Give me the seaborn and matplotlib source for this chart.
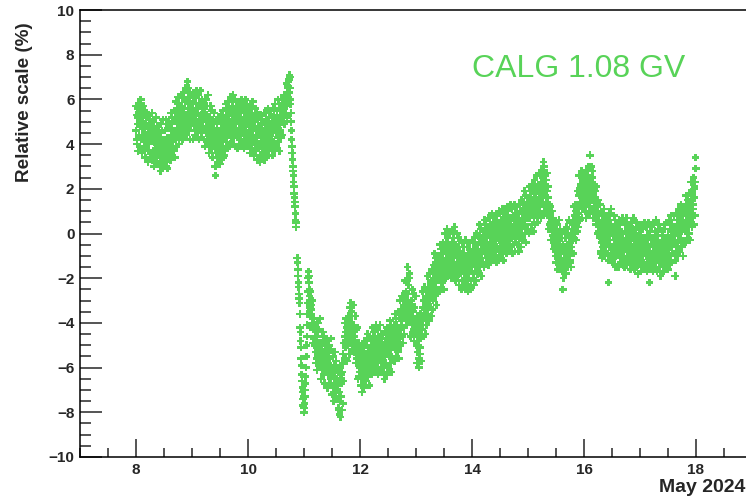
import numpy as np
import pandas as pd
import matplotlib
matplotlib.use("Agg")
import matplotlib.pyplot as plt
from matplotlib.ticker import MultipleLocator
import seaborn as sns

# Relative rigidity-scale deviation (%) of the CALG 1.08 GV channel, May 2024.
# Per day: readings on the 0.01-day grid, then readings half a step later.
scale_may08 = [
    4.6, 5.3, 4.2, 4.9, 5.6, 4.4, 5.0, 3.9, 4.8, 5.2,
    4.3, 5.0, 4.7, 3.8, 5.4, 4.5, 4.1, 4.9, 5.2, 4.4,
    4.0, 4.8, 3.7, 4.5, 5.1, 4.2, 4.6, 3.6, 4.9, 4.3,
    3.6, 4.4, 4.1, 3.4, 4.7, 3.8, 4.2, 3.2, 4.0, 4.5,
    3.5, 4.3, 3.9, 3.1, 4.5, 3.7, 4.1, 3.3, 4.0, 3.8,
    4.2, 3.4, 4.6, 3.8, 3.0, 4.3, 4.0, 3.6, 4.8, 3.9,
    4.1, 4.7, 3.7, 4.4, 5.0, 4.2, 3.9, 4.6, 4.3, 5.1,
    4.6, 5.2, 4.4, 5.5, 4.9, 5.8, 4.7, 5.1, 4.3, 5.4,
    5.0, 5.7, 4.8, 5.4, 6.1, 5.2, 5.6, 4.7, 5.9, 5.3,
    5.2, 6.0, 6.8, 5.4, 5.8, 4.9, 5.6, 6.2, 5.1, 5.5,
]
scale_may08_mid = [
    5.7, 4.0, 5.2, 3.7, 5.8, 4.3, 5.5, 3.9, 6.0, 4.2,
    3.6, 5.2, 4.2, 5.7, 3.8, 5.5, 3.4, 4.9, 4.0, 5.4,
    4.8, 3.2, 5.3, 4.0, 5.1, 3.4, 4.5, 3.6, 5.4, 3.3,
    3.3, 5.0, 3.0, 4.6, 3.8, 5.2, 3.1, 4.8, 3.5, 4.4,
    4.8, 3.1, 4.3, 2.8, 4.9, 3.4, 4.6, 3.0, 5.1, 3.3,
    3.0, 4.6, 3.6, 5.1, 3.2, 4.9, 2.9, 4.3, 3.4, 4.8,
    4.9, 3.3, 5.4, 4.1, 5.2, 3.5, 4.6, 3.7, 5.5, 3.4,
    4.2, 5.9, 3.9, 5.5, 4.7, 6.1, 4.0, 5.7, 4.4, 5.3,
    6.2, 4.5, 5.7, 4.2, 6.3, 4.8, 6.0, 4.4, 6.5, 4.7,
    4.4, 6.0, 5.0, 6.5, 4.6, 6.3, 4.2, 5.7, 4.8, 6.2,
]
scale_may09 = [
    5.6, 5.0, 5.9, 5.3, 4.8, 5.5, 6.1, 5.1, 5.4, 4.9,
    5.4, 4.9, 5.7, 5.1, 5.8, 4.7, 5.3, 5.0, 5.6, 5.2,
    4.8, 5.4, 4.6, 5.1, 5.7, 4.5, 5.0, 5.3, 4.7, 5.2,
    4.9, 4.3, 5.2, 4.5, 4.0, 4.8, 4.4, 5.0, 3.9, 4.6,
    4.4, 3.8, 2.6, 4.2, 3.6, 4.7, 3.9, 3.4, 4.5, 4.0,
    4.1, 4.6, 3.7, 4.4, 5.0, 3.9, 4.3, 4.8, 3.5, 4.5,
    4.7, 5.3, 4.5, 5.0, 5.6, 4.4, 5.1, 4.8, 5.4, 4.6,
    5.4, 4.8, 5.7, 5.0, 6.0, 4.6, 5.2, 5.5, 4.9, 5.3,
    4.6, 5.2, 4.4, 5.6, 4.9, 4.2, 5.0, 5.4, 4.7, 5.1,
    5.1, 4.5, 5.5, 4.8, 4.1, 5.0, 4.6, 5.8, 4.4, 4.9,
]
scale_may09_mid = [
    5.8, 4.2, 6.3, 5.0, 6.1, 4.4, 5.5, 4.6, 6.4, 4.3,
    4.5, 6.2, 4.2, 5.8, 5.0, 6.4, 4.3, 6.0, 4.7, 5.6,
    5.9, 4.2, 5.4, 3.9, 6.0, 4.5, 5.7, 4.1, 6.2, 4.4,
    3.6, 5.2, 4.2, 5.7, 3.8, 5.5, 3.4, 4.9, 4.0, 5.4,
    4.6, 3.0, 5.1, 3.8, 4.9, 3.2, 4.3, 3.4, 5.2, 3.1,
    3.6, 5.3, 3.3, 4.9, 4.1, 5.5, 3.4, 5.1, 3.8, 4.7,
    5.8, 4.1, 5.3, 3.8, 5.9, 4.4, 5.6, 4.0, 6.1, 4.3,
    4.1, 5.7, 4.7, 6.2, 4.3, 6.0, 3.9, 5.4, 4.5, 5.9,
    5.4, 3.8, 5.9, 4.6, 5.7, 4.0, 5.1, 4.2, 6.0, 3.9,
    4.1, 5.8, 3.8, 5.4, 4.6, 6.0, 3.9, 5.6, 4.3, 5.2,
]
scale_may10 = [
    4.5, 5.1, 4.2, 4.8, 5.4, 4.0, 4.9, 4.6, 5.2, 4.4,
    4.8, 4.2, 5.0, 3.8, 4.6, 4.3, 5.3, 4.0, 4.7, 4.4,
    4.0, 4.6, 3.5, 4.4, 4.9, 4.1, 3.8, 4.5, 4.2, 5.0,
    4.7, 4.1, 4.5, 3.9, 5.0, 4.3, 4.6, 3.7, 4.8, 4.2,
    4.4, 4.9, 4.2, 4.7, 5.2, 4.5, 4.0, 4.8, 4.6, 5.1,
    5.0, 4.5, 5.3, 4.7, 4.3, 5.1, 4.9, 5.5, 4.6, 5.2,
    5.2, 5.8, 5.0, 5.5, 6.1, 5.4, 5.9, 5.3, 6.2, 5.7,
    6.2, 6.6, 6.0, 6.9, 7.1, 6.5, 5.8, 5.0, 4.2, 3.6,
    3.0, 2.6, 2.1, 1.6, 1.2, 0.6, 0.3, np.nan, -1.1, -1.6,
    -2.2, -2.7, -3.1, -4.2, -4.8, -5.6, -6.3, -6.9, -7.4, -7.0,
]
scale_may10_mid = [
    5.6, 3.9, 5.1, 3.6, 5.7, 4.2, 5.4, 3.8, 5.9, 4.1,
    3.5, 5.1, 4.1, 5.6, 3.7, 5.4, 3.3, 4.8, 3.9, 5.3,
    4.8, 3.2, 5.3, 4.0, 5.1, 3.4, 4.5, 3.6, 5.4, 3.3,
    3.7, 5.4, 3.4, 5.0, 4.2, 5.6, 3.5, 5.2, 3.9, 4.8,
    5.5, 3.8, 5.0, 3.5, 5.6, 4.1, 5.3, 3.7, 5.8, 4.0,
    3.9, 5.5, 4.5, 6.0, 4.1, 5.8, 3.7, 5.2, 4.3, 5.7,
    5.6, 4.4, 6.0, 5.0, 6.2, 4.9, 5.9, 5.3, 6.7, 5.2,
    6.5, 6.1, 6.8, 6.3, 7.0, 6.0, 5.4, 4.6, 3.9, 3.3,
    2.8, 2.3, 1.8, 1.4, 0.9, 0.5, np.nan, np.nan, -1.3, -1.9,
    -2.4, -2.9, -3.6, -4.4, -5.1, -5.9, -6.6, -7.1, -7.7, -7.3,
]
scale_may11 = [
    -8.0, -7.6, -7.0, -6.4, -5.5, -4.6, -3.6, -2.6, -1.7, -2.2,
    -2.8, -3.2, -3.6, -3.4, -4.0, -3.8, -4.3, -4.7, -4.2, -5.0,
    -4.6, -5.3, -4.8, -5.6, -4.4, -5.1, -5.7, -4.9, -5.4, -5.0,
    -5.2, -5.8, -5.0, -6.1, -5.4, -5.7, -4.9, -5.5, -6.2, -5.3,
    -5.4, -6.0, -5.1, -5.8, -6.3, -5.5, -6.1, -5.2, -5.9, -6.4,
    -6.2, -6.8, -6.0, -7.1, -6.4, -6.9, -5.9, -7.3, -6.6, -7.0,
    -7.4, -6.8, -7.9, -7.1, -6.5, -8.2, -7.3, -6.7, -6.2, -5.8,
    -5.4, -4.9, -5.6, -4.6, -5.1, -4.4, -4.8, -4.2, -4.6, -4.0,
    -4.5, -3.9, -4.7, -3.1, -4.2, -4.8, -3.7, -4.4, -4.9, -4.1,
    -4.6, -5.1, -4.3, -5.4, -4.9, -5.6, -5.2, -5.8, -5.5, -6.0,
]
scale_may11_mid = [
    -7.8, -7.3, -6.7, -6.0, -5.0, -4.1, -3.1, -2.0, -1.9, -2.5,
    -3.3, -2.6, -4.2, -3.2, -4.0, -3.0, -4.9, -3.8, -4.9, -4.2,
    -4.1, -5.8, -4.6, -6.1, -4.0, -5.5, -4.3, -5.9, -3.8, -5.6,
    -6.5, -4.9, -5.9, -4.4, -6.3, -4.6, -6.7, -5.2, -6.1, -4.7,
    -5.3, -6.9, -4.8, -6.1, -5.0, -6.7, -5.6, -6.5, -4.7, -6.8,
    -7.2, -5.5, -7.5, -5.9, -6.7, -5.3, -7.4, -5.7, -7.0, -6.1,
    -6.1, -7.8, -6.6, -8.1, -6.0, -7.5, -6.3, -7.9, -5.8, -7.6,
    -6.6, -4.9, -5.7, -4.0, -5.6, -3.8, -5.7, -4.3, -4.9, -3.7,
    -3.8, -5.4, -3.3, -4.6, -3.5, -5.2, -4.1, -5.0, -3.2, -5.3,
    -5.3, -3.7, -5.8, -4.3, -5.4, -4.2, -6.5, -4.9, -6.4, -5.4,
]
scale_may12 = [
    -6.2, -5.7, -6.5, -5.9, -6.8, -6.1, -5.6, -6.3, -5.8, -6.0,
    -5.9, -5.4, -6.2, -5.6, -5.1, -5.8, -5.3, -6.0, -5.5, -5.2,
    -5.0, -5.6, -4.8, -5.3, -5.9, -5.1, -4.6, -5.4, -5.7, -4.9,
    -5.6, -5.0, -5.8, -5.2, -4.7, -5.5, -6.1, -5.3, -4.9, -5.7,
    -5.1, -5.7, -5.3, -6.0, -5.5, -4.9, -5.8, -5.2, -6.3, -5.4,
    -5.3, -4.7, -5.5, -5.0, -4.5, -5.2, -4.8, -5.6, -4.6, -5.1,
    -4.8, -4.3, -5.0, -4.5, -4.9, -4.1, -4.7, -4.4, -5.2, -4.2,
    -4.3, -3.8, -4.5, -3.6, -4.1, -3.9, -4.6, -3.5, -4.2, -3.7,
    -3.4, -2.9, -3.6, -2.2, -3.1, -1.5, -2.7, -3.3, -2.0, -3.5,
    -3.2, -3.9, -3.4, -3.7, -4.1, -3.5, -4.3, -3.8, -4.5, -4.0,
]
scale_may12_mid = [
    -5.1, -6.8, -5.6, -7.1, -5.0, -6.5, -5.3, -6.9, -4.8, -6.6,
    -6.6, -5.0, -6.0, -4.5, -6.4, -4.7, -6.8, -5.3, -6.2, -4.8,
    -4.7, -6.3, -4.2, -5.5, -4.4, -6.1, -5.0, -5.9, -4.1, -6.2,
    -6.0, -4.3, -6.3, -4.7, -5.5, -4.1, -6.2, -4.5, -5.8, -4.9,
    -4.5, -6.2, -5.0, -6.5, -4.4, -5.9, -4.7, -6.3, -4.2, -6.0,
    -6.0, -4.4, -5.4, -3.9, -5.8, -4.1, -6.2, -4.7, -5.6, -4.2,
    -4.1, -5.7, -3.6, -4.9, -3.8, -5.5, -4.4, -5.3, -3.5, -5.6,
    -4.7, -3.0, -5.0, -3.4, -4.2, -2.8, -4.9, -3.2, -4.5, -3.6,
    -2.1, -3.8, -2.6, -4.1, -2.0, -3.5, -2.3, -3.9, -1.8, -3.6,
    -4.6, -3.0, -4.0, -2.5, -4.4, -2.7, -4.8, -3.3, -4.2, -2.8,
]
scale_may13 = [
    -4.4, -5.0, -4.6, -5.3, -4.8, -6.0, -4.5, -5.1, -4.2, -4.7,
    -4.1, -3.7, -3.9, -3.3, -3.8, -3.4, -3.0, -3.6, -2.9, -3.2,
    -3.1, -2.6, -3.3, -2.8, -2.4, -3.0, -2.7, -2.2, -2.9, -2.5,
    -2.3, -1.8, -2.5, -2.0, -1.6, -2.2, -1.9, -1.4, -2.1, -1.7,
    -1.8, -1.3, -1.6, -1.0, -1.9, -1.4, -1.2, -1.7, -0.9, -1.5,
    -1.3, -0.8, -1.5, -0.6, -1.1, 0.0, -1.4, -0.9, -1.6, -0.7,
    -0.6, -1.2, -0.8, -1.5, -0.4, -1.0, -1.7, -0.7, -1.1, -0.5,
    -1.4, -0.9, -1.6, -1.0, -0.6, -1.3, -1.8, -0.8, -1.2, -1.5,
    -1.1, -1.7, -1.3, -2.1, -1.5, -0.9, -1.6, -2.2, -1.2, -1.8,
    -1.9, -1.4, -2.3, -1.6, -1.2, -2.0, -1.5, -2.4, -1.7, -1.1,
]
scale_may13_mid = [
    -4.2, -5.8, -3.7, -5.0, -3.9, -5.6, -4.5, -5.4, -3.6, -5.7,
    -4.3, -2.6, -4.6, -3.0, -3.8, -2.4, -4.5, -2.8, -4.1, -3.2,
    -1.9, -3.6, -2.4, -3.9, -1.8, -3.3, -2.1, -3.7, -1.6, -3.4,
    -3.0, -1.4, -2.4, -0.9, -2.8, -1.1, -3.2, -1.7, -2.6, -1.2,
    -1.0, -2.6, -0.5, -1.8, -0.7, -2.4, -1.3, -2.2, -0.4, -2.5,
    -1.7, 0.0, -2.0, -0.4, -1.2, 0.2, -1.9, -0.2, -1.5, -0.6,
    0.0, -1.7, -0.5, -2.0, 0.1, -1.4, -0.2, -1.8, 0.3, -1.5,
    -2.1, -0.5, -1.5, 0.0, -1.9, -0.2, -2.3, -0.8, -1.7, -0.3,
    -0.9, -2.5, -0.4, -1.7, -0.6, -2.3, -1.2, -2.1, -0.3, -2.4,
    -2.3, -0.6, -2.6, -1.0, -1.8, -0.4, -2.5, -0.8, -2.1, -1.2,
]
scale_may14 = [
    -1.5, -0.9, -1.3, -1.8, -1.0, -1.4, -0.6, -1.2, -1.7, -0.8,
    -1.0, -0.5, -0.9, -0.2, -0.8, -1.3, -0.4, -0.7, -1.1, -0.3,
    -0.7, -0.2, -0.6, 0.1, -0.5, -0.9, -0.1, -0.4, -1.0, 0.2,
    0.0, -0.6, -0.2, -0.8, 0.3, -0.4, -0.1, -0.7, 0.4, -0.3,
    -0.5, 0.1, -0.3, 0.5, -0.1, -0.6, 0.2, -0.2, -0.8, 0.0,
    0.3, -0.3, 0.6, -0.1, 0.2, -0.5, 0.4, 0.0, -0.4, 0.7,
    0.0, 0.5, -0.2, 0.3, 0.8, 0.1, -0.3, 0.4, 0.6, -0.1,
    0.4, -0.2, 0.2, -0.5, 0.0, 0.6, -0.1, 0.3, -0.4, 0.1,
    0.1, 0.6, -0.1, 0.4, 0.9, 0.2, -0.2, 0.5, 0.0, 0.7,
    0.5, 1.1, 0.6, 1.3, 0.8, 0.3, 1.0, 0.7, 1.4, 0.9,
]
scale_may14_mid = [
    -0.3, -2.0, -0.8, -2.3, -0.2, -1.7, -0.5, -2.1, 0.0, -1.8,
    -1.7, -0.1, -1.1, 0.4, -1.5, 0.2, -1.9, -0.4, -1.3, 0.1,
    0.1, -1.5, 0.6, -0.7, 0.4, -1.3, -0.2, -1.1, 0.7, -1.4,
    -1.0, 0.7, -1.3, 0.3, -0.5, 0.9, -1.2, 0.5, -0.8, 0.1,
    0.7, -1.0, 0.2, -1.3, 0.8, -0.7, 0.5, -1.1, 1.0, -0.8,
    -1.0, 0.6, -0.4, 1.1, -0.8, 0.9, -1.2, 0.3, -0.6, 0.8,
    0.7, -0.9, 1.2, -0.1, 1.0, -0.7, 0.4, -0.5, 1.3, -0.8,
    -0.6, 1.1, -0.9, 0.7, -0.1, 1.3, -0.8, 0.9, -0.4, 0.5,
    1.2, -0.5, 0.7, -0.8, 1.3, -0.2, 1.0, -0.6, 1.5, -0.3,
    -0.2, 1.4, 0.4, 1.9, 0.0, 1.7, -0.4, 1.1, 0.2, 1.6,
]
scale_may15 = [
    1.4, 0.9, 1.2, 0.7, 1.6, 1.0, 1.3, 0.8, 1.5, 1.1,
    1.0, 1.6, 1.2, 1.8, 1.4, 0.9, 1.5, 1.1, 1.9, 1.3,
    1.5, 2.0, 1.3, 2.3, 1.8, 2.6, 1.6, 2.1, 3.2, 1.9,
    2.2, 1.7, 2.4, 1.4, 1.9, 1.2, 1.6, 1.0, 1.3, 0.9,
    0.8, 0.5, 0.2, 0.6, -0.1, 0.3, -0.3, 0.1, -0.5, -0.2,
    -0.4, -0.8, -0.3, -1.0, -0.6, -0.2, -0.9, -0.5, -1.2, -0.7,
    -0.6, -1.2, -2.5, -0.8, -1.4, -0.7, -1.1, -1.6, -0.9, -1.3,
    -1.0, -0.5, -0.9, -0.2, -0.7, -1.3, -0.4, 0.0, -0.6, 0.2,
    0.0, 0.5, -0.2, 0.8, 0.3, 1.0, 0.4, 1.2, 0.6, 0.9,
    1.1, 1.7, 1.3, 1.9, 1.4, 2.1, 1.6, 1.2, 1.8, 2.2,
]
scale_may15_mid = [
    1.6, 0.0, 2.1, 0.8, 1.9, 0.2, 1.3, 0.4, 2.2, 0.1,
    0.7, 2.4, 0.4, 2.0, 1.2, 2.6, 0.5, 2.2, 0.9, 1.8,
    2.7, 1.0, 2.2, 0.7, 2.8, 1.3, 2.5, 0.9, 3.0, 1.2,
    1.0, 2.6, 1.4, 2.7, 0.8, 2.1, 0.2, 1.3, 0.4, 1.2,
    1.2, -0.3, 1.0, -0.1, 0.7, -0.7, 0.2, -0.6, 0.5, -1.0,
    -1.3, 0.4, -1.6, 0.0, -0.8, 0.6, -1.5, 0.2, -1.1, -0.2,
    0.0, -1.7, -0.5, -2.0, 0.1, -1.4, -0.2, -1.8, 0.3, -1.5,
    -1.5, 0.0, -1.0, 0.6, -1.2, 0.5, -1.5, -0.1, -0.9, 0.5,
    0.6, -0.9, 1.2, 0.0, 1.3, -0.3, 0.9, 0.1, 1.9, 0.3,
    0.9, 2.6, 0.6, 2.2, 1.4, 2.8, 0.7, 2.4, 1.1, 2.0,
]
scale_may16 = [
    1.5, 2.1, 1.7, 2.4, 1.9, 1.4, 2.0, 2.6, 1.6, 2.2,
    2.3, 3.5, 1.8, 2.1, 1.5, 2.5, 1.7, 2.0, 1.4, 2.2,
    1.6, 1.2, 1.4, 0.8, 1.0, 0.4, 0.6, 0.1, 0.3, -0.2,
    0.2, -0.4, 0.1, -0.6, -0.1, 0.4, -0.3, -0.8, 0.0, -0.5,
    -0.4, 0.2, -0.2, 0.5, -2.2, 0.0, -0.3, 0.3, -0.9, 0.1,
    0.0, -0.6, -0.1, -0.9, -0.3, 0.3, -0.5, -1.0, -0.2, 0.2,
    -0.7, -0.1, -0.5, 0.2, -0.9, -0.3, -1.1, -0.4, 0.0, -0.6,
    -0.2, -0.8, -0.4, -1.2, -0.5, 0.1, -0.7, -1.0, -0.3, -0.6,
    -0.8, -0.3, -1.0, -0.5, 0.0, -0.7, -1.3, -0.2, -0.6, -0.9,
    -0.3, -0.9, -0.5, -1.1, -0.2, -0.7, -1.4, -0.6, -0.1, -0.8,
]
scale_may16_mid = [
    2.7, 1.0, 2.2, 0.7, 2.8, 1.3, 2.5, 0.9, 3.0, 1.2,
    0.9, 2.5, 1.5, 3.0, 1.1, 2.8, 0.7, 2.2, 1.0, 2.1,
    1.9, 0.4, 2.1, 0.9, 1.5, 0.0, 0.9, -0.1, 1.3, -0.9,
    -0.8, 0.9, -1.1, 0.5, -0.3, 1.1, -1.0, 0.7, -0.6, 0.3,
    0.8, -0.9, 0.3, -1.2, 0.9, -0.6, 0.6, -1.0, 1.1, -0.7,
    -1.3, 0.3, -0.7, 0.8, -1.1, 0.6, -1.5, 0.0, -0.9, 0.5,
    0.1, -1.5, 0.6, -0.7, 0.4, -1.3, -0.2, -1.1, 0.7, -1.4,
    -1.2, 0.5, -1.5, 0.1, -0.7, 0.7, -1.4, 0.3, -1.0, -0.1,
    0.4, -1.3, -0.1, -1.6, 0.5, -1.0, 0.2, -1.4, 0.7, -1.1,
    -1.6, 0.0, -1.0, 0.5, -1.4, 0.3, -1.8, -0.3, -1.2, 0.2,
]
scale_may17 = [
    -0.9, -0.4, -1.2, -0.6, -0.2, -1.0, -0.5, -1.5, -0.7, -0.3,
    -0.4, -1.0, -0.7, -1.3, -0.5, -0.1, -0.9, -2.2, -0.6, -1.1,
    -0.9, -0.3, -1.1, -0.6, -1.4, -0.2, -0.8, -0.5, -1.2, -0.4,
    -0.5, -1.0, -0.3, -1.2, -0.7, -1.5, -0.4, -0.9, -1.1, -0.6,
    -0.8, -0.4, -1.3, -0.6, -0.2, -1.0, -0.5, -1.6, -0.7, -0.3,
    -0.1, -0.7, -0.3, -1.0, -0.4, 0.1, -0.6, -0.2, -0.9, -0.5,
    -0.5, 0.1, -0.3, -1.9, 0.0, -0.4, 0.3, -0.6, -0.1, 0.2,
    0.0, 0.5, -0.2, 0.4, 0.8, 0.1, -0.4, 0.6, 0.3, 1.0,
    0.4, 0.9, 0.2, 1.2, 0.6, 0.0, 1.0, 0.7, 1.4, 0.5,
    0.9, 1.5, 1.1, 1.8, 0.8, 1.3, 2.0, 1.6, 2.3, 3.4,
]
scale_may17_mid = [
    -0.1, -1.7, 0.4, -0.9, 0.2, -1.5, -0.4, -1.3, 0.5, -1.6,
    -1.4, 0.3, -1.7, -0.1, -0.9, 0.5, -1.6, 0.1, -1.2, -0.3,
    0.3, -1.4, -0.2, -1.7, 0.4, -1.1, 0.1, -1.5, 0.6, -1.2,
    -1.7, -0.1, -1.1, 0.4, -1.5, 0.2, -1.9, -0.4, -1.3, 0.1,
    -0.1, -1.7, 0.4, -0.9, 0.2, -1.5, -0.4, -1.3, 0.5, -1.6,
    -1.1, 0.6, -1.4, 0.2, -0.6, 0.8, -1.3, 0.4, -0.9, 0.0,
    0.8, -0.9, 0.3, -1.2, 0.9, -0.6, 0.6, -1.0, 1.1, -0.7,
    -0.8, 0.8, -0.2, 1.3, -0.6, 1.1, -1.0, 0.5, -0.4, 1.0,
    1.2, -0.4, 1.7, 0.4, 1.5, -0.2, 0.9, 0.0, 1.8, -0.3,
    0.6, 2.3, 0.3, 1.9, 1.1, 2.5, 0.4, 2.1, 0.8, 2.9,
]

days_of_may = [8, 9, 10, 11, 12, 13, 14, 15, 16, 17]
grid_step = 0.01  # days between readings
green = "#58d358"

on_grid = [scale_may08, scale_may09, scale_may10, scale_may11, scale_may12,
           scale_may13, scale_may14, scale_may15, scale_may16, scale_may17]
half_step = [scale_may08_mid, scale_may09_mid, scale_may10_mid,
             scale_may11_mid, scale_may12_mid, scale_may13_mid,
             scale_may14_mid, scale_may15_mid, scale_may16_mid,
             scale_may17_mid]

frames = []
for day, a, b in zip(days_of_may, on_grid, half_step):
    idx = np.arange(len(a))
    frames.append(pd.DataFrame({"day": day + idx * grid_step, "scale": a}))
    frames.append(pd.DataFrame({"day": day + (idx + 0.5) * grid_step,
                                "scale": b}))
df = pd.concat(frames, ignore_index=True).dropna().sort_values("day")

sns.set_style("ticks")
plt.rcParams["font.family"] = ["Liberation Sans", "DejaVu Sans"]

W, H = 746, 503
fig = plt.figure(figsize=(W / 100, H / 100), dpi=100)
# frame runs past the right edge of the canvas
ax = fig.add_axes([80 / W, 1 - 457 / H, 672 / W, 447 / H])

sns.scatterplot(data=df, x="day", y="scale", ax=ax, marker="P", s=30,
                color=green, linewidth=0, edgecolor="none", legend=False)

ax.set_xlim(7, 19)
ax.set_ylim(-10, 10)
ax.xaxis.set_major_locator(MultipleLocator(2))
ax.xaxis.set_minor_locator(MultipleLocator(0.5))
ax.yaxis.set_major_locator(MultipleLocator(2))
ax.yaxis.set_minor_locator(MultipleLocator(0.5))

for s in ax.spines.values():
    s.set_linewidth(1.1)
    s.set_color("black")

ax.tick_params(axis="y", which="major", direction="in", length=15.5, width=1.1,
               pad=4, labelsize=11)
ax.tick_params(axis="y", which="minor", direction="in", length=7.8, width=1.1)
ax.tick_params(axis="x", which="major", direction="in", length=13, width=1.1,
               pad=4, labelsize=11)
ax.tick_params(axis="x", which="minor", direction="in", length=6.5, width=1.1)
ax.tick_params(right=False, top=False, which="both")
for lab in ax.get_xticklabels() + ax.get_yticklabels():
    lab.set_fontweight("bold")

ax.set_xlabel("")
ax.set_ylabel("")
fig.text(25 / W, 1 - 22 / H, "Relative scale (%)", rotation=90, ha="center",
         va="top", fontsize=13.6, fontweight="bold")
fig.text(745 / W, 1 - 488 / H, "May 2024", ha="right", va="center",
         fontsize=14, fontweight="bold")

ax.text(14, 7, "CALG 1.08 GV", color=green, fontsize=23, ha="left",
        va="baseline")

fig.savefig("out.png", dpi=100)
